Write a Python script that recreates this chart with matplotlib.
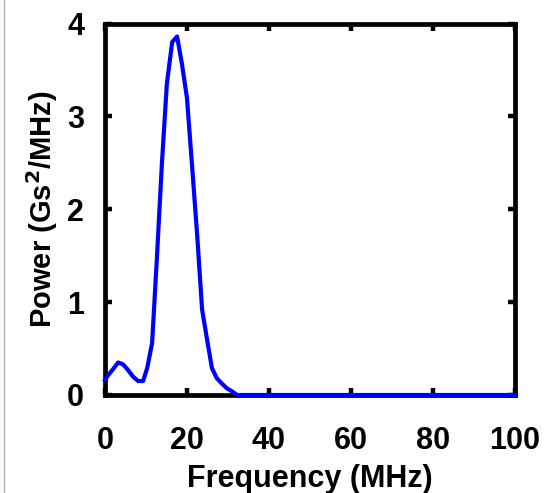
import numpy as np
import matplotlib.pyplot as plt
from matplotlib.lines import Line2D

# Spectre de puissance
freq_mhz = [0, 0.7, 2.0, 3.2, 4.4, 5.6, 6.8, 8.1, 9.3, 10.3, 11.5, 12.7, 13.9,
            15.1, 16.4, 17.6, 18.8, 20.0, 21.2, 22.5, 23.7, 24.9, 26.1, 27.3,
            28.6, 29.8, 31.0, 32.2, 100]
power = [0.16, 0.21, 0.28, 0.35, 0.33, 0.27, 0.20, 0.15, 0.15, 0.29, 0.56, 1.50,
         2.50, 3.35, 3.80, 3.86, 3.56, 3.20, 2.50, 1.72, 0.92, 0.60, 0.29, 0.18,
         0.12, 0.07, 0.04, 0.0, 0.0]

x_ticks = [0, 20, 40, 60, 80, 100]
y_ticks = [0, 1, 2, 3, 4]

plt.rcParams['font.family'] = ['Liberation Sans', 'DejaVu Sans']

fig = plt.figure(figsize=(5.46, 4.93), dpi=100, facecolor='white')
ax = fig.add_axes([0.1923, 0.1988, 0.7504, 0.7535])

ax.plot(freq_mhz, power, color='#0000ff', linewidth=3.0, clip_on=False, zorder=3)

ax.set_xlim(0, 100)
ax.set_ylim(0, 4)
ax.set_xticks(x_ticks)
ax.set_yticks(y_ticks)
ax.tick_params(direction='in', length=5, width=3.2, top=True, right=True,
               labelsize=22)
ax.tick_params(axis='x', pad=22)
ax.tick_params(axis='y', pad=15)
for lbl in ax.get_xticklabels() + ax.get_yticklabels():
    lbl.set_fontweight('bold')
for sp in ax.spines.values():
    sp.set_linewidth(3.4)

ax.set_xlabel("Frequency (MHz)", fontsize=22, fontweight='bold', labelpad=6)
ax.set_ylabel("Power (Gs$^{\\mathbf{2}}$/MHz)", fontsize=21, fontweight='bold', labelpad=5)

# fine bordure grise à gauche
fig.add_artist(Line2D([0.0065, 0.0065], [0, 1], transform=fig.transFigure,
                      color='#b0b0b0', linewidth=1))

fig.savefig("out.png", dpi=100, facecolor='white')
